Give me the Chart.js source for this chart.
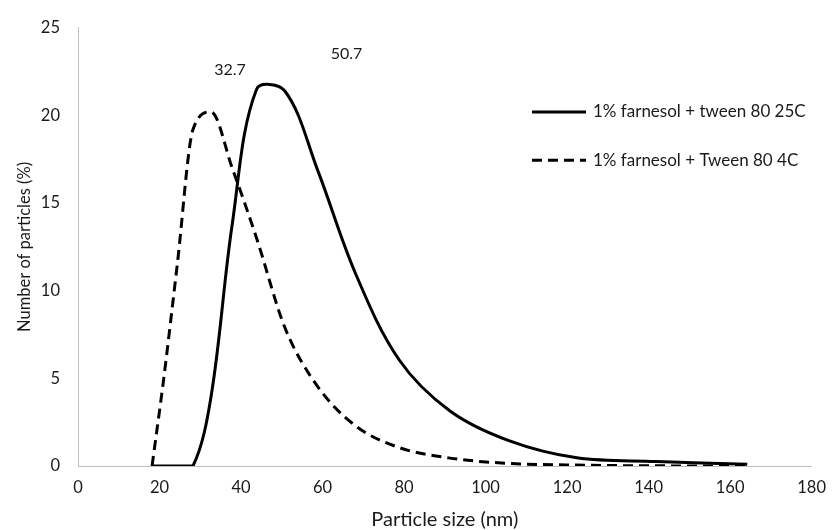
<!DOCTYPE html>
<html><head><meta charset="utf-8">
<script src="https://cdn.jsdelivr.net/npm/chart.js@4.4.0/dist/chart.umd.min.js"></script>
<style>html,body{margin:0;padding:0;background:#fff;}canvas{display:block;}</style>
</head><body>
<canvas id="c" width="838" height="530"></canvas>
<script>
const sizes = [18.17, 21.04, 24.36, 28.21, 32.67, 37.84, 43.82, 50.75, 58.77, 68.06, 78.82, 91.28, 105.7, 122.4, 141.8, 164.2];
const values25C = [0, 0, 0, 0, 4.0, 13.8, 21.5, 21.4, 16.9, 11.0, 6.05, 3.14, 1.45, 0.47, 0.26, 0.1];
const values4C = [0, 5.0, 11.5, 19.2, 20.2, 17.0, 13.0, 7.9, 4.55, 2.3, 1.05, 0.45, 0.15, 0.05, 0.01, 0];
const seriesLabels = ['1% farnesol + tween 80 25C', '1% farnesol + Tween 80 4C'];
const peakLabels = ['32.7', '50.7'];
const xTickValues = [0, 20, 40, 60, 80, 100, 120, 140, 160, 180];
const yTickValues = [0, 5, 10, 15, 20, 25];
const xTitle = 'Particle size (nm)';
const yTitle = 'Number of particles (%)';

const FONT = "Lato, 'Open Sans', sans-serif";
const TXT = '#1a1a1a';
const DASH = [10, 6];

function pts(ys) { return sizes.map((x, i) => ({x: x, y: ys[i]})); }

const annotPlugin = {
  id: 'annot',
  afterDatasetsDraw(chart) {
    const ctx = chart.ctx;
    const xs = chart.scales.x, ys = chart.scales.y;
    const ca = chart.chartArea;
    ctx.save();
    ctx.font = '16px ' + FONT;
    ctx.fillStyle = TXT;
    ctx.textBaseline = 'middle';
    ctx.textAlign = 'center';
    const anchors = [[37.3, 22.6], [65.9, 23.5]];
    peakLabels.forEach((t, i) => {
      ctx.fillText(t, xs.getPixelForValue(anchors[i][0]), ys.getPixelForValue(anchors[i][1]));
    });
    // legend
    ctx.font = '17px ' + FONT;
    ctx.textAlign = 'left';
    const lx0 = ca.left + 454, lx1 = ca.left + 508, tx = ca.left + 515;
    const rowY = [ys.getPixelForValue(20.2), ys.getPixelForValue(17.45)];
    chart.data.datasets.forEach((ds, i) => {
      ctx.beginPath();
      ctx.lineWidth = ds.borderWidth;
      ctx.strokeStyle = ds.borderColor;
      ctx.setLineDash(ds.borderDash || []);
      ctx.moveTo(lx0, rowY[i]);
      ctx.lineTo(lx1, rowY[i]);
      ctx.stroke();
      ctx.setLineDash([]);
      ctx.fillText(ds.label, tx, rowY[i]);
    });
    ctx.restore();
  }
};

new Chart(document.getElementById('c'), {
  type: 'scatter',
  data: {
    datasets: [
      {label: seriesLabels[0], data: pts(values25C), showLine: true, borderColor: '#000', borderWidth: 3,
       pointRadius: 0, tension: 0.35, fill: false},
      {label: seriesLabels[1], data: pts(values4C), showLine: true, borderColor: '#000', borderWidth: 3,
       borderDash: DASH, pointRadius: 0, cubicInterpolationMode: 'monotone', fill: false}
    ]
  },
  options: {
    responsive: false,
    animation: false,
    devicePixelRatio: 1,
    layout: {padding: {top: 22, right: 17, left: 0, bottom: 0}},
    plugins: {legend: {display: false}, tooltip: {enabled: false}},
    scales: {
      x: {
        type: 'linear', min: 0, max: 180,
        afterBuildTicks: s => { s.ticks = xTickValues.map(v => ({value: v})); },
        afterFit: s => { s.height = 64; },
        grid: {display: true, drawOnChartArea: false, drawTicks: false},
        border: {display: true, color: '#bfbfbf', width: 1},
        ticks: {padding: 12, font: {family: FONT, size: 16.5}, color: TXT, maxRotation: 0},
        title: {display: true, text: xTitle, font: {family: FONT, size: 20, lineHeight: 1.0}, color: TXT, padding: {top: 0, bottom: 0}}
      },
      y: {
        type: 'linear', min: 0, max: 25,
        afterBuildTicks: s => { s.ticks = yTickValues.map(v => ({value: v})); },
        afterFit: s => { s.width = 78; },
        grid: {display: true, drawOnChartArea: false, drawTicks: false},
        border: {display: true, color: '#bfbfbf', width: 1},
        ticks: {padding: 18, font: {family: FONT, size: 16.5}, color: TXT},
        title: {display: true, text: yTitle, font: {family: FONT, size: 16.5}, color: TXT, padding: {top: 15, bottom: 0}}
      }
    }
  },
  plugins: [annotPlugin]
});
</script>
</body></html>
